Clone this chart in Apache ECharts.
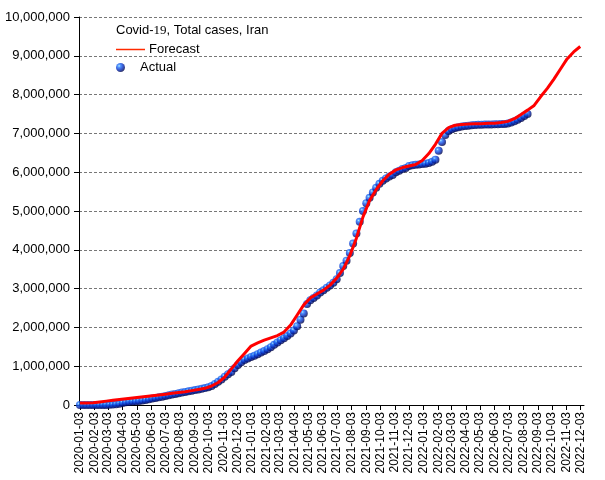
<!DOCTYPE html>
<html>
<head>
<meta charset="utf-8">
<script src="https://cdn.jsdelivr.net/npm/echarts@6/dist/echarts.min.js"></script>
<style>html,body{margin:0;padding:0;background:#fff}#c{width:605px;height:480px}</style>
</head>
<body>
<div id="c"></div>
<script>
// Actual: weekly totals (millions) starting 2020-01-03
const actualStart = '2020-01-03';
const actualStepDays = 7;
const actualMillions = [
  0,0,0,0,0,0,0,0.00002,0.0006,0.0046,
  0.011,0.019,0.032,0.053,0.068,0.08,0.089,0.095,0.104,0.116,
  0.13,0.146,0.167,0.182,0.2,0.215,0.235,0.25,0.27,0.285,
  0.302,0.322,0.338,0.354,0.37,0.385,0.4,0.419,0.436,0.46,
  0.49,0.54,0.6,0.66,0.73,0.79,0.85,0.95,1.03,1.1,
  1.16,1.2,1.24,1.27,1.31,1.35,1.39,1.44,1.49,1.55,
  1.61,1.67,1.72,1.78,1.84,1.92,2.03,2.2,2.36,2.6,
  2.7,2.76,2.82,2.9,2.96,3.02,3.08,3.15,3.24,3.4,
  3.58,3.72,3.92,4.16,4.42,4.72,5.0,5.2,5.34,5.48,
  5.6,5.7,5.78,5.84,5.89,5.93,6.0,6.04,6.08,6.11,
  6.16,6.18,6.19,6.2,6.21,6.22,6.24,6.27,6.32,6.55,
  6.78,6.96,7.06,7.11,7.14,7.16,7.18,7.19,7.2,7.21,
  7.215,7.22,7.225,7.228,7.23,7.232,7.234,7.236,7.24,7.245,
  7.255,7.28,7.31,7.35,7.4,7.45,7.5
];
// Forecast: biweekly totals (millions) starting 2020-01-03
const forecastStart = '2020-01-03';
const forecastStepDays = 14;
const forecastMillions = [
  0.05,0.05,0.06,0.08,0.1,0.12,0.14,0.16,0.18,0.2,
  0.22,0.24,0.26,0.28,0.3,0.32,0.34,0.37,0.4,0.43,
  0.49,0.58,0.72,0.93,1.14,1.33,1.52,1.6,1.67,1.73,
  1.79,1.88,2.06,2.32,2.58,2.76,2.86,2.96,3.09,3.27,
  3.5,3.85,4.3,4.85,5.27,5.55,5.78,5.95,6.06,6.12,
  6.16,6.2,6.3,6.48,6.72,7.0,7.15,7.21,7.23,7.24,
  7.25,7.25,7.26,7.26,7.28,7.31,7.38,7.49,7.6,7.72,
  7.95,8.16,8.4,8.66,8.92,9.1,9.24
];
const xTickLabels = [
  '2020-01-03','2020-02-03','2020-03-03','2020-04-03','2020-05-03','2020-06-03',
  '2020-07-03','2020-08-03','2020-09-03','2020-10-03','2020-11-03','2020-12-03',
  '2021-01-03','2021-02-03','2021-03-03','2021-04-03','2021-05-03','2021-06-03',
  '2021-07-03','2021-08-03','2021-09-03','2021-10-03','2021-11-03','2021-12-03',
  '2022-01-03','2022-02-03','2022-03-03','2022-04-03','2022-05-03','2022-06-03',
  '2022-07-03','2022-08-03','2022-09-03','2022-10-03','2022-11-03','2022-12-03'
];
const xMinDate = '2020-01-01';
const xMaxDate = '2022-12-10';
const yMin = 0, yMax = 10000000, yInterval = 1000000;
const titleParts = ['Covid-', '19', ', Total cases, Iran'];
const seriesNames = ['Forecast', 'Actual'];

const DAY = 86400000;
function ms(s){ const p = s.split('-').map(Number); return Date.UTC(p[0], p[1]-1, p[2]); }
function fmtDate(v){ return new Date(v).toISOString().slice(0,10); }
function fmtNum(v){ return String(Math.round(v)).replace(/\B(?=(\d{3})+(?!\d))/g, ','); }

const actualData = actualMillions.map((v,i)=>[ms(actualStart)+i*actualStepDays*DAY, v*1e6]);
const forecastData = forecastMillions.map((v,i)=>[ms(forecastStart)+i*forecastStepDays*DAY, v*1e6]);
const tickValues = xTickLabels.map(ms);

const FONT = '"Liberation Sans", Arial, sans-serif';
const sphere = {
  type: 'radial', x: 0.35, y: 0.32, r: 0.75,
  colorStops: [
    {offset: 0, color: '#a0ecff'},
    {offset: 0.2, color: '#2c80ff'},
    {offset: 0.5, color: '#0a3cd4'},
    {offset: 0.8, color: '#00127a'},
    {offset: 1, color: '#000030'}
  ]
};

const chart = echarts.init(document.getElementById('c'), null, {renderer: 'canvas'});
chart.setOption({
  animation: false,
  backgroundColor: '#fff',
  textStyle: {fontFamily: FONT},
  title: {
    left: 116, top: 24, padding: 0,
    text: '{a|' + titleParts[0] + '}{b|' + titleParts[1] + '}{a|' + titleParts[2] + '}',
    textStyle: {
      fontWeight: 'normal',
      rich: {
        a: {fontFamily: FONT, fontSize: 13, color: '#000', fontWeight: 'normal'},
        b: {fontFamily: '"Liberation Serif","DejaVu Serif",serif', fontSize: 13, color: '#000', fontWeight: 'normal'}
      }
    }
  },
  legend: [
    {
      data: [{name: seriesNames[0], icon: 'rect', itemStyle: {color: '#ff2a00'}}],
      left: 116, top: 43, itemWidth: 29, itemHeight: 1.5, itemGap: 4,
      textStyle: {fontFamily: FONT, fontSize: 13, color: '#000', padding: [0,0,0,-1]},
      selectedMode: false, padding: 0
    },
    {
      data: [{name: seriesNames[1], icon: 'circle'}],
      left: 116, top: 61, itemWidth: 29, itemHeight: 9, itemGap: 4,
      textStyle: {fontFamily: FONT, fontSize: 13, color: '#000'},
      selectedMode: false, padding: 0
    }
  ],
  grid: {left: 79, right: 21, top: 17, bottom: 75, containLabel: false},
  xAxis: {
    type: 'value',
    min: ms(xMinDate), max: ms(xMaxDate),
    splitLine: {show: false},
    axisLine: {show: true, lineStyle: {color: '#000', width: 1}},
    axisTick: {show: true, customValues: tickValues, length: 5, lineStyle: {color: '#000'}},
    axisLabel: {
      customValues: tickValues, rotate: 90, formatter: fmtDate,
      fontFamily: FONT, fontSize: 12, color: '#000', margin: 7
    }
  },
  yAxis: {
    type: 'value', min: yMin, max: yMax, interval: yInterval,
    axisLine: {show: true, lineStyle: {color: '#000', width: 1}},
    axisTick: {show: true, length: 5, lineStyle: {color: '#000'}},
    axisLabel: {formatter: fmtNum, fontFamily: FONT, fontSize: 13, color: '#000', margin: 9},
    splitLine: {show: true, lineStyle: {color: '#777', type: [3,2], width: 1}}
  },
  series: [
    {
      name: seriesNames[1], type: 'scatter', data: actualData,
      symbol: 'circle', symbolSize: 8, z: 2,
      itemStyle: {color: sphere}
    },
    {
      name: seriesNames[0], type: 'line', data: forecastData,
      showSymbol: false, symbol: 'none', z: 3,
      lineStyle: {color: '#ff0000', width: 3},
      itemStyle: {color: '#ff2a00'}
    }
  ]
});
</script>
</body>
</html>
